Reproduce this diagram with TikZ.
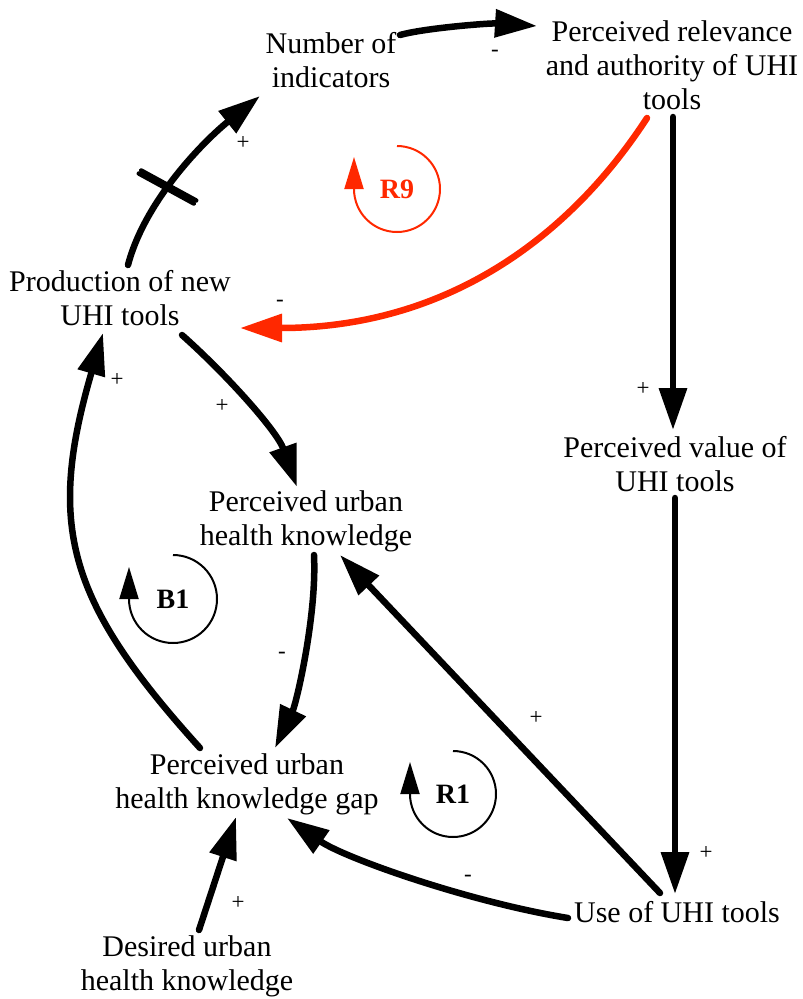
\documentclass[tikz,border=0pt]{standalone}
\usepackage{fontspec}
\setmainfont{Liberation Serif}
\usetikzlibrary{arrows.meta}
\definecolor{loopred}{RGB}{255,40,0}
\begin{document}
\begin{tikzpicture}[x=1pt,y=-1pt,
  var/.style={align=center, inner sep=0pt, font=\fontsize{30}{34}\selectfont},
  pol/.style={inner sep=0pt, font=\fontsize{23}{26}\selectfont},
  conn/.style={line width=6.5pt, line cap=round, -{Triangle[length=42pt,width=27pt]}},
  redconn/.style={conn, color=loopred},
  looptxt/.style={inner sep=0pt, font=\fontsize{28}{30}\selectfont\bfseries},
  loopline/.style={line width=2pt, -{Triangle[length=32pt,width=19pt]}},
  hashline/.style={line width=4.5pt, line cap=round},
]
\useasboundingbox (0,0) rectangle (803,999);

% variables
\node[var] (num)  at (331,63.2)  {\strut Number of\\\strut indicators};
\node[var] (rel)  at (672,68.2)  {\strut Perceived relevance\\\strut and authority of UHI\\\strut tools};
\node[var] (prod) at (120,301.7) {\strut Production of new\\\strut UHI tools};
\node[var] (puhk) at (306,521.7) {\strut Perceived urban\\\strut health knowledge};
\node[var] (val)  at (675,467.7) {\strut Perceived value of\\\strut UHI tools};
\node[var] (gap)  at (247,784.7) {\strut Perceived urban\\\strut health knowledge gap};
\node[var] (des)  at (187,966.7) {\strut Desired urban\\\strut health knowledge};
\node[var] (use)  at (677,915.2) {\strut Use of UHI tools};

% connectors
\draw[conn] ([shift={(69,-28.2)}]num.center) .. controls (425,28) and (490,23) .. ([shift={(-135,-42.2)}]rel.center);
\draw[conn] ([shift={(8,-36.7)}]prod.center) .. controls (145,200) and (205,140) .. ([shift={(-71,32.8)}]num.center);
\draw[redconn] ([shift={(-25,49.8)}]rel.center) .. controls (565,244) and (440,328) .. ([shift={(120,26.3)}]prod.center);
\draw[conn] ([shift={(62,33.3)}]prod.center) .. controls (227,375) and (277,431) .. ([shift={(-9,-34.7)}]puhk.center);
\draw[conn] ([shift={(-47,-36.7)}]gap.center) .. controls (66,600) and (47,525) .. ([shift={(-17,31.3)}]prod.center);
\draw[conn] ([shift={(8,33.3)}]puhk.center) .. controls (317,615) and (296.5,703) .. ([shift={(28,-36.7)}]gap.center);
\draw[conn] ([shift={(12,-36.7)}]des.center) -- ([shift={(-11,32.3)}]gap.center);
\draw[conn] ([shift={(-109,2.8)}]use.center) .. controls (469,902) and (344.4,858) .. ([shift={(40,33.3)}]gap.center);
\draw[conn] ([shift={(-17,-22.2)}]use.center) -- ([shift={(34,33.3)}]puhk.center);
\draw[conn] ([shift={(1,48.8)}]rel.center) -- ([shift={(-2,-37.7)}]val.center);
\draw[conn] ([shift={(0,30.3)}]val.center) -- ([shift={(-2,-21.2)}]use.center);

% delay mark
\coordinate (hash) at (167.5,187);
\draw[hashline] ([shift={(-26.3,-16.5)}]hash) -- ([shift={(28.7,13.5)}]hash);
\draw[hashline] ([shift={(-28.7,-13.5)}]hash) -- ([shift={(26.3,16.5)}]hash);

% polarities
\node[pol] (p1)  at (495,53)  {-};
\node[pol] (p2)  at (243,143) {+};
\node[pol] (p3)  at (280,303) {-};
\node[pol] (p4)  at (222,406) {+};
\node[pol] (p5)  at (117,380) {+};
\node[pol] (p6)  at (282,655) {-};
\node[pol] (p7)  at (238,903) {+};
\node[pol] (p8)  at (468,878) {-};
\node[pol] (p9)  at (536,718) {+};
\node[pol] (p10) at (643,389) {+};
\node[pol] (p11) at (706,853) {+};

% loops
\node[looptxt] (b1) at (173,599) {B1};
\draw[loopline] ([shift={(0,-44)}]b1.center) arc[start angle=-90, end angle=180, radius=44] -- ++(0,-32);
\node[looptxt] (r1) at (453,794) {R1};
\draw[loopline] ([shift={(0,-43)}]r1.center) arc[start angle=-90, end angle=180, radius=43] -- ++(0,-32);
\node[looptxt, text=loopred] (r9) at (397,189) {R9};
\draw[loopline, color=loopred] ([shift={(0,-43)}]r9.center) arc[start angle=-90, end angle=180, radius=43] -- ++(0,-32);
\end{tikzpicture}
\end{document}
